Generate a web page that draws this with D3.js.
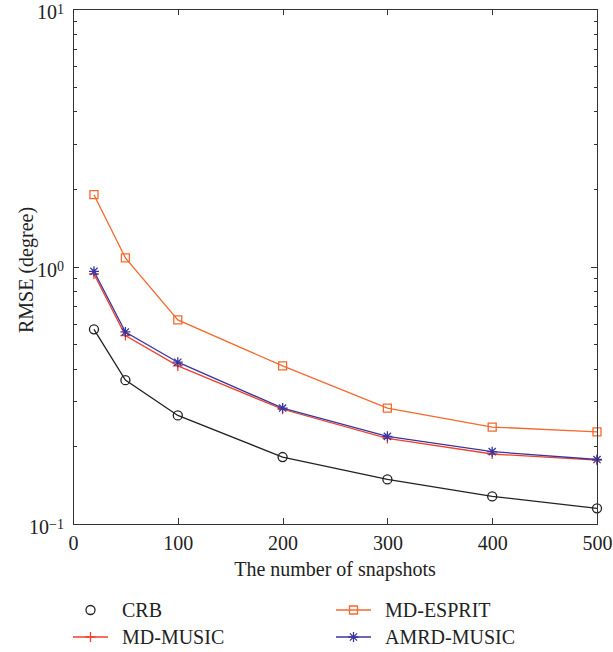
<!DOCTYPE html>
<html lang="en">
<head>
  <meta charset="UTF-8">
  <title>RMSE vs snapshots</title>
  <script src="https://d3js.org/d3.v7.min.js"></script>
  <style>
    body { margin: 0; background: #fff; font-family: "Liberation Serif", "DejaVu Serif", serif; }
    svg { display: block; }
    .axis path, .axis line { fill: none; stroke: #333; shape-rendering: crispEdges; }
    .axis path { stroke-width: 1.5px; }
    .axis text { font-family: "Liberation Serif", serif; font-size: 20px; fill: #222; }
  </style>
</head>
<body>
  <svg id="chart" width="613" height="652"></svg>
  <script>
    // data
    const snapshots = [20, 50, 100, 200, 300, 400, 500];
    const crb = [0.570, 0.362, 0.264, 0.182, 0.149, 0.128, 0.115];
    const mdEsprit = [1.90, 1.08, 0.620, 0.411, 0.282, 0.238, 0.228];
    const mdMusic = [0.935, 0.539, 0.411, 0.279, 0.215, 0.187, 0.177];
    const amrdMusic = [0.958, 0.557, 0.425, 0.282, 0.219, 0.191, 0.178];
    const xTicks = [0, 100, 200, 300, 400, 500];
    const yTicks = [0.1, 1, 10];
    const yExp = ["−1", "0", "1"];

    const series = [
      { name: "CRB", values: crb, color: "#222222", marker: "circle", legendLine: false },
      { name: "MD-ESPRIT", values: mdEsprit, color: "#f5692f", marker: "square", legendLine: true },
      { name: "MD-MUSIC", values: mdMusic, color: "#f2402c", marker: "plus", legendLine: true },
      { name: "AMRD-MUSIC", values: amrdMusic, color: "#3a36a0", marker: "star", legendLine: true }
    ];

    const margin = { left: 73, top: 9, right: 16, bottom: 128 };
    const width = 613 - margin.left - margin.right;   // 524
    const height = 652 - margin.top - margin.bottom;  // 515

    const svg = d3.select("#chart");
    const g = svg.append("g").attr("transform", `translate(${margin.left},${margin.top})`);

    const x = d3.scaleLinear().domain([0, 500]).range([0, width]);
    const y = d3.scaleLog().domain([0.1, 10]).range([height, 0]);

    // minor ticks for log axis
    const minor = [];
    [0.1, 1].forEach(d => { for (let k = 2; k <= 9; k++) minor.push(d * k); });

    // marker shapes
    function markerPath(type) {
      if (type === "circle") return d3.symbol().type(d3.symbolCircle).size(64)();
      if (type === "square") return "M-4,-4H4V4H-4Z";
      if (type === "plus") return "M-5,0H5M0,-5V5";
      // asterisk
      return "M-5,0H5M0,-5V5M-3.6,-3.6L3.6,3.6M-3.6,3.6L3.6,-3.6";
    }

    // lines
    const line = d3.line()
      .x((d, i) => x(snapshots[i]))
      .y(d => y(d));

    series.forEach(s => {
      g.append("path")
        .attr("d", line(s.values))
        .attr("fill", "none")
        .attr("stroke", s.color)
        .attr("stroke-width", 1.3);
      g.selectAll(null)
        .data(s.values)
        .enter().append("path")
        .attr("transform", (d, i) => `translate(${x(snapshots[i])},${y(d)})`)
        .attr("d", markerPath(s.marker))
        .attr("fill", "none")
        .attr("stroke", s.color)
        .attr("stroke-width", 1.3);
    });

    // axes (ticks inward, box)
    g.append("g").attr("class", "axis")
      .attr("transform", `translate(0,${height})`)
      .call(d3.axisBottom(x).tickValues(xTicks).tickSize(-6).tickSizeOuter(0).tickPadding(7))
      .selectAll("text").attr("dy", "0.95em");

    g.append("g").attr("class", "axis")
      .call(d3.axisTop(x).tickValues(xTicks).tickSize(-6).tickSizeOuter(0).tickFormat(""));

    const yAxis = g.append("g").attr("class", "axis")
      .call(d3.axisLeft(y).tickValues(yTicks).tickSize(-6).tickSizeOuter(0).tickPadding(9));
    yAxis.selectAll("text").each(function(d, i) {
      const t = d3.select(this).text("").attr("y", 3.5);
      t.append("tspan").text("10");
      t.append("tspan").attr("dy", "-0.4em").style("font-size", "14px").text(yExp[i]);
    });

    g.append("g").attr("class", "axis")
      .call(d3.axisLeft(y).tickValues(minor).tickSize(-3.5).tickSizeOuter(0).tickFormat(""))
      .select(".domain").remove();

    g.append("g").attr("class", "axis")
      .attr("transform", `translate(${width},0)`)
      .call(d3.axisRight(y).tickValues(yTicks).tickSize(-6).tickSizeOuter(0).tickFormat(""));

    g.append("g").attr("class", "axis")
      .attr("transform", `translate(${width},0)`)
      .call(d3.axisRight(y).tickValues(minor).tickSize(-3.5).tickSizeOuter(0).tickFormat(""))
      .select(".domain").remove();

    // axis titles
    svg.append("text")
      .attr("x", margin.left + width / 2)
      .attr("y", 576)
      .attr("text-anchor", "middle")
      .attr("fill", "#222")
      .style("font-size", "20px")
      .text("The number of snapshots");

    svg.append("text")
      .attr("transform", `translate(33,270) rotate(-90)`)
      .attr("text-anchor", "middle")
      .attr("fill", "#222")
      .style("font-size", "20px")
      .text("RMSE (degree)");

    // legend
    const legendPos = [
      { lx: 73, ly: 610 },
      { lx: 336, ly: 610 },
      { lx: 73, ly: 637 },
      { lx: 336, ly: 637 }
    ];
    series.forEach((s, i) => {
      const p = legendPos[i];
      const lg = svg.append("g").attr("transform", `translate(${p.lx},${p.ly})`);
      if (s.legendLine) {
        lg.append("line").attr("x1", 0).attr("x2", 35)
          .attr("stroke", s.color).attr("stroke-width", 1.3);
      }
      lg.append("path")
        .attr("transform", "translate(17.5,0)")
        .attr("d", markerPath(s.marker))
        .attr("fill", "none")
        .attr("stroke", s.color)
        .attr("stroke-width", 1.3);
      lg.append("text")
        .attr("x", 49)
        .attr("y", 7)
        .attr("fill", "#222")
        .style("font-size", "20px")
        .text(s.name);
    });
  </script>
</body>
</html>
